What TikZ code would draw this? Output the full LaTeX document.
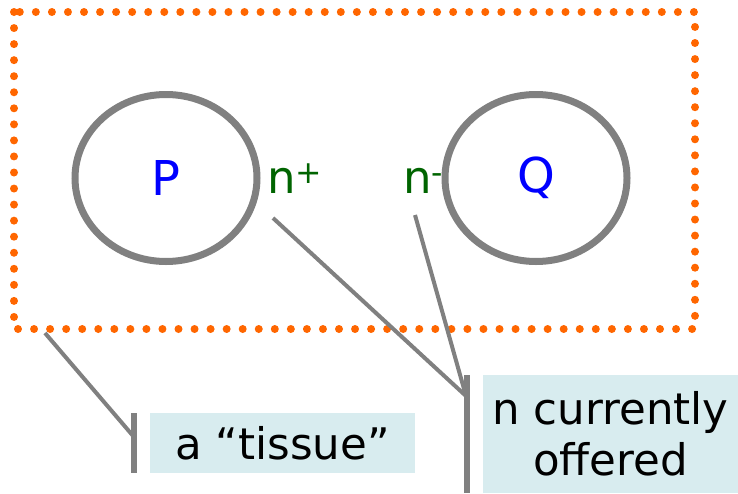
\documentclass[tikz,border=0pt]{standalone}
\usepackage{fontspec}
\setmainfont{DejaVu Sans}
\usetikzlibrary{shapes.geometric}
\definecolor{dotorange}{RGB}{255,102,0}
\definecolor{ringgray}{RGB}{128,128,128}
\definecolor{boxblue}{RGB}{216,236,239}
\definecolor{labgreen}{RGB}{0,100,0}
\tikzset{
  cell/.style={ellipse, draw=ringgray, line width=7pt, minimum width=182pt, minimum height=167pt,
    text=blue, font=\fontsize{48}{54}\selectfont},
  flux/.style={text=labgreen, inner sep=0pt, font=\fontsize{45}{50}\selectfont},
  callout/.style={fill=boxblue, inner sep=0pt, align=center, font=\fontsize{43.5}{51}\selectfont},
  pointer/.style={draw=ringgray, line width=4pt},
  bar/.style={draw=ringgray, line width=5.5pt}
}
\begin{document}
\begin{tikzpicture}[x=1pt, y=-1pt]
    \useasboundingbox (0,0) rectangle (738,493);
    % the tissue
    \draw[dotorange, line width=8pt, line cap=round, dash pattern=on 0pt off 16.05pt] (14,12) rectangle (695,329);
    \node[cell] (P) at (166,178) {P};
    \node[cell] (Q) at (536,178) {Q};
    \node[flux, anchor=base west] (nplus) at (267,193) {n\textsuperscript{+}};
    \node[flux, anchor=base west] (nminus) at (403,193) {n\textsuperscript{-}};
    % callouts
    \node[callout, minimum width=265pt, minimum height=60pt] (tissue) at (282.5,443) {a “tissue”};
    \node[callout, minimum width=255pt, minimum height=118pt] (offered) at (610.5,434) {n currently\\offered};
    \coordinate (tissuetail) at (45,333);
    \coordinate (tissuebend) at (134,437);
    \coordinate (tissuetop) at (134,413);
    \coordinate (tissuebot) at (134,473);
    \coordinate (nplustail) at (273,218);
    \coordinate (nminustail) at (415,215);
    \coordinate (nbend) at (466,396);
    \coordinate (ntop) at (467,375);
    \coordinate (nbot) at (467,493);
    \draw[pointer] (tissuetail) -- (tissuebend);
    \draw[bar] (tissuetop) -- (tissuebot);
    \draw[pointer] (nplustail) -- (nbend);
    \draw[pointer] (nminustail) -- (nbend);
    \draw[bar] (ntop) -- (nbot);
\end{tikzpicture}
\end{document}
